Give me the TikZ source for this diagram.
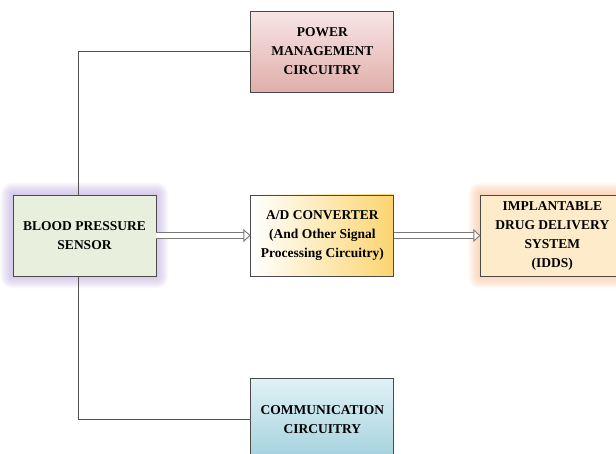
\documentclass[tikz,border=0pt]{standalone}
\usepackage{fontspec}
\setmainfont{Liberation Serif}
\usepackage{xcolor}
\usepackage{tikz}
\usetikzlibrary{arrows.meta, positioning, calc, backgrounds}
\definecolor{boxedge}{HTML}{4A4A4A}
\definecolor{sensorfill}{HTML}{E9EFDD}
\definecolor{sensorglow}{HTML}{B9A6DA}
\definecolor{powertop}{HTML}{F7E6E6}
\definecolor{powerbot}{HTML}{E0AEAA}
\definecolor{adright}{HTML}{FCD570}
\definecolor{iddsfill}{HTML}{FDEBC9}
\definecolor{iddsglow}{HTML}{F7B98A}
\definecolor{commtop}{HTML}{E0F1F5}
\definecolor{commbot}{HTML}{A4D2DE}
\definecolor{wiregray}{HTML}{505050}
\definecolor{arrowgray}{HTML}{7A7A7A}

\begin{document}
\begin{tikzpicture}[
    x=1pt, y=1pt,
    every node/.style={font=\fontsize{13.5}{19}\selectfont\bfseries},
    box/.style={
        rectangle,
        draw=boxedge,
        line width=0.9pt,
        minimum height=81pt,
        minimum width=143pt,
        inner xsep=2pt,
        align=center
    },
    wire/.style={
        line width=0.8pt,
        draw=wiregray
    },
    dblarrow/.style={
        -{Triangle[fill=white, width=13pt, length=7pt, line width=0.9pt]},
        double,
        double distance=4.5pt,
        line width=0.9pt,
        draw=arrowgray
    }
]
\useasboundingbox (0,0) rectangle (616,454);
\clip (0,0) rectangle (616,454);

% Middle row: sensor to IDDS
\node[box, fill=sensorfill] (sensor) at (84.5,218.5) {BLOOD PRESSURE\\SENSOR};
\node[box, left color=white, right color=adright, right=94pt of sensor] (adc)
    {A/D CONVERTER\\(And Other Signal\\Processing Circuitry)};
\node[box, fill=iddsfill, right=86pt of adc] (idds)
    {IMPLANTABLE\\DRUG DELIVERY\\SYSTEM\\(IDDS)};

% Top and bottom boxes
\node[box, top color=powertop, bottom color=powerbot, above=102pt of adc] (power)
    {POWER\\MANAGEMENT\\CIRCUITRY};
\node[box, top color=commtop, bottom color=commbot, below=102pt of adc] (comm)
    {COMMUNICATION\\CIRCUITRY};

% Glow behind sensor and IDDS
\begin{pgfonlayer}{background}
\foreach \g in {1,...,12} {
    \fill[sensorglow, opacity=0.065, rounded corners=\g pt]
        ($(sensor.south west)+(-\g,-\g)$) rectangle ($(sensor.north east)+(\g,\g)$);
    \fill[iddsglow, opacity=0.065, rounded corners=\g pt]
        ($(idds.south west)+(-\g,-\g)$) rectangle ($(idds.north east)+(\g,\g)$);
}
\end{pgfonlayer}

% Wires
\draw[wire] ([xshift=-6.5pt]sensor.north) |- (power.west);
\draw[wire] ([xshift=-6.5pt]sensor.south) |- (comm.west);

% Signal path
\draw[dblarrow] (sensor) -- (adc);
\draw[dblarrow] (adc) -- (idds);

\end{tikzpicture}
\end{document}
